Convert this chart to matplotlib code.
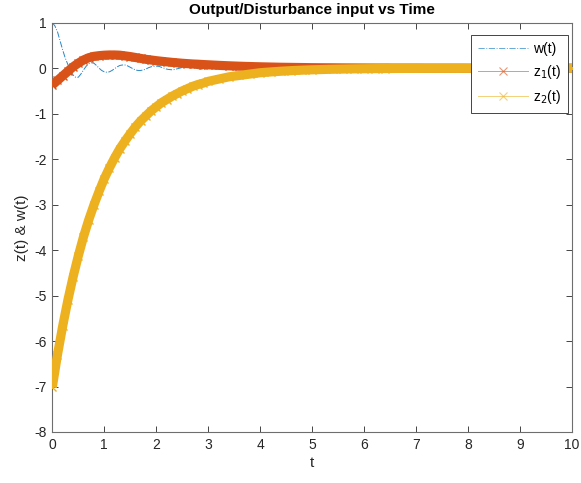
import matplotlib
matplotlib.use("Agg")
import matplotlib.pyplot as plt
from matplotlib.lines import Line2D
import numpy as np

# MATLAB default colours
BLUE = "#0072BD"
ORANGE = "#D95319"
YELLOW = "#EDB120"
AXC = "#262626"

plt.rcParams.update({
    "font.family": ["Liberation Sans", "DejaVu Sans"],
    "font.size": 10,
    "axes.unicode_minus": False,
})

# disturbance w(t), read every 0.05 s up to 3 s, then every 0.5 s
t_w = np.round(np.concatenate([np.arange(0, 3.01, 0.05), np.arange(3.5, 10.01, 0.5)]), 2)
w = [1.00, 0.93, 0.80, 0.60, 0.40, 0.22, 0.08, -0.05, -0.15, -0.20,
     -0.20, -0.13, -0.04, 0.04, 0.10, 0.12, 0.11, 0.06, 0.00, -0.05,
     -0.08, -0.09, -0.08, -0.05, -0.01, 0.03, 0.06, 0.07, 0.07, 0.05,
     0.02, -0.01, -0.04, -0.05, -0.05, -0.04, -0.02, 0.01, 0.03, 0.04,
     0.045, 0.04, 0.02, 0.00, -0.02, -0.03, -0.035, -0.03, -0.015, 0.00,
     0.015, 0.025, 0.03, 0.025, 0.015, 0.00, -0.01, -0.02, -0.02, -0.015,
     -0.005,
     0.0, 0.0, 0.0, 0.0, 0.0, 0.0, 0.0, 0.0, 0.0, 0.0, 0.0, 0.0, 0.0, 0.0]

# outputs, read every 0.1 s up to 3 s, then every 0.2 s
t_z = np.round(np.concatenate([np.arange(0, 3.01, 0.1), np.arange(3.2, 10.01, 0.2)]), 2)
z1 = [-0.37, -0.27, -0.17, -0.07, 0.03, 0.11, 0.18, 0.23, 0.26, 0.275,
      0.285, 0.29, 0.29, 0.285, 0.27, 0.255, 0.235, 0.215, 0.195, 0.18,
      0.165, 0.152, 0.14, 0.128, 0.118, 0.108, 0.10, 0.092, 0.087, 0.08,
      0.074,
      0.062, 0.052, 0.043, 0.036, 0.030, 0.025, 0.020, 0.017, 0.014, 0.011,
      0.009, 0.008, 0.006, 0.005, 0.004, 0.003, 0.003, 0.002, 0.002, 0.002,
      0.001, 0.001, 0.001, 0.001, 0.0, 0.0, 0.0, 0.0, 0.0, 0.0,
      0.0, 0.0, 0.0, 0.0, 0.0]
z2 = [-7.02, -6.30, -5.67, -5.10, -4.59, -4.13, -3.71, -3.34, -3.01, -2.71,
      -2.43, -2.19, -1.97, -1.77, -1.60, -1.44, -1.29, -1.16, -1.05, -0.94,
      -0.85, -0.76, -0.69, -0.62, -0.56, -0.50, -0.45, -0.40, -0.36, -0.33,
      -0.29,
      -0.24, -0.19, -0.16, -0.13, -0.10, -0.083, -0.067, -0.054, -0.044, -0.036,
      -0.029, -0.023, -0.019, -0.015, -0.012, -0.010, -0.008, -0.006, -0.005, -0.004,
      -0.003, -0.003, -0.002, -0.002, -0.001, -0.001, -0.001, -0.001, -0.001, 0.0,
      0.0, 0.0, 0.0, 0.0, 0.0]

fig = plt.figure(figsize=(5.81, 4.83), dpi=100)
ax = fig.add_axes([0.0900, 0.1056, 0.8945, 0.8474])

ax.plot(t_w, w, color=BLUE, lw=0.7, ls="-.", alpha=0.85, zorder=2)
# dense markers in the original make a solid band -> thick line + x markers
for z, c in ((z1, ORANGE), (z2, YELLOW)):
    ax.plot(t_z, z, color=c, lw=6.6, solid_capstyle="butt", zorder=3)
    ax.plot(t_z, z, color=c, lw=0, marker="x", ms=5.5, mew=1.0, zorder=3)

ax.set_xlim(0, 10)
ax.set_ylim(-8, 1)
ax.set_xticks(range(0, 11))
ax.set_yticks(range(-8, 2))
ax.tick_params(direction="in", length=4, width=0.6, color=AXC, labelcolor=AXC,
               top=True, right=True, labelsize=10, pad=4)
for s in ax.spines.values():
    s.set_color("#6e6e6e")
    s.set_linewidth(0.8)

ax.set_title("Output/Disturbance input vs Time", fontsize=11, fontweight="bold",
             color="black", pad=6)
ax.set_xlabel("t", fontsize=11, color=AXC, labelpad=3)
ax.set_ylabel("z(t) & w(t)", fontsize=11, color=AXC, labelpad=4)

handles = [Line2D([], [], color=BLUE, lw=0.7, ls="-.", alpha=0.6),
           Line2D([], [], color=ORANGE, lw=0.7, marker="x", ms=6, mew=0.8, alpha=0.6),
           Line2D([], [], color=YELLOW, lw=0.7, marker="x", ms=6, mew=0.8, alpha=0.6)]
leg = ax.legend(handles, ["w(t)", "z$_1$(t)", "z$_2$(t)"], loc="upper right",
                bbox_to_anchor=(0.993, 0.97), fontsize=10, fancybox=False,
                framealpha=1, edgecolor=AXC, handlelength=3.6, handletextpad=0.4,
                borderpad=0.5, labelspacing=0.5, borderaxespad=0)
leg.get_frame().set_linewidth(0.6)

fig.savefig("out.png", dpi=100)
